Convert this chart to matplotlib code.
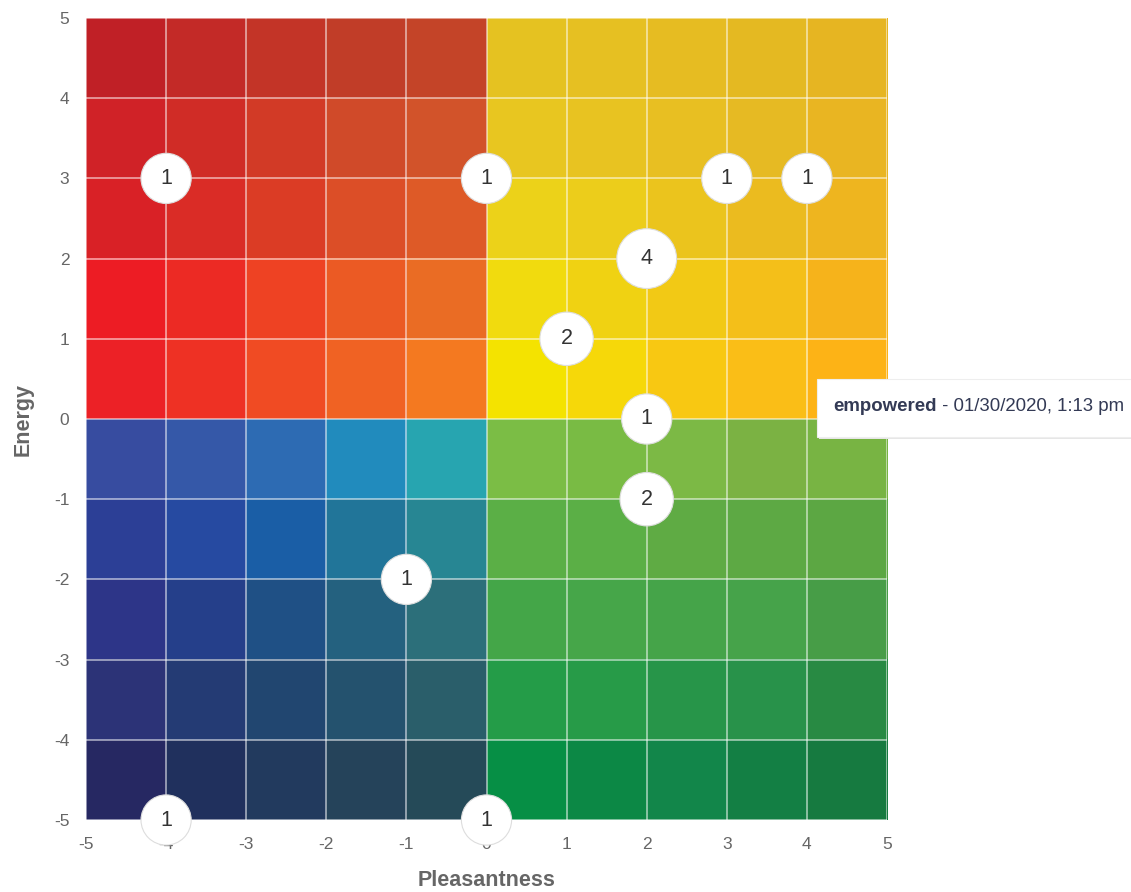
import numpy as np
import matplotlib
matplotlib.use('Agg')
import matplotlib.pyplot as plt
from matplotlib.colors import to_rgb
from matplotlib.patches import Rectangle

plt.rcParams['font.family'] = ['Liberation Sans', 'DejaVu Sans']
plt.rcParams['axes.unicode_minus'] = False

# Cell colours, rows from top (energy 4..5) down to bottom (energy -5..-4),
# columns from pleasantness -5 to 5
cell_rows = [
    ['#C02026', '#C32A27', '#C33427', '#C13D28', '#C44428', '#E5C221', '#E6C022', '#E6BC22', '#E4B922', '#E6B522'],
    ['#D02227', '#D02C26', '#D23A26', '#D04A29', '#D2532A', '#E8C620', '#E8C321', '#E8BF22', '#E6BA23', '#E9B522'],
    ['#D92126', '#DA2C26', '#DB3C25', '#DC4E27', '#DE5A27', '#ECD219', '#ECCD1B', '#EBC41D', '#EBBB1F', '#EEB51F'],
    ['#ED1C24', '#EC2A24', '#EE4223', '#EB5A24', '#EA6C24', '#F1DB0E', '#F0D212', '#F2C915', '#F4BF19', '#F6B31B'],
    ['#EC2126', '#EE3124', '#F04B23', '#F06223', '#F47920', '#F4E300', '#F6D809', '#F8C812', '#FABE17', '#FDB316'],
    ['#374CA0', '#3558A8', '#2D6BB3', '#218BBD', '#27A5B0', '#7BBD45', '#79BB44', '#7CB945', '#7BB243', '#78B443'],
    ['#2C3F96', '#264AA1', '#1A5EA6', '#217599', '#278693', '#5BAF46', '#5BAF46', '#5FAB44', '#5DA944', '#5CA743'],
    ['#2D3588', '#253F8A', '#1F5085', '#24617F', '#2C6F7A', '#44A648', '#46A649', '#45A449', '#46A34A', '#479D47'],
    ['#2C3377', '#243B74', '#214670', '#24526E', '#2A5E6A', '#249C48', '#279B48', '#279549', '#28924A', '#288A43'],
    ['#262862', '#20305D', '#223A5E', '#25435A', '#254A58', '#068F45', '#0C8845', '#12864A', '#137F44', '#167A40'],
]

# Check-in points
pleasantness = [-4, 0, 3, 4, 2, 1, 2, 2, -1, -4, 0]
energy = [3, 3, 3, 3, 2, 1, 0, -1, -2, -5, -5]
counts = [1, 1, 1, 1, 4, 2, 1, 2, 1, 1, 1]

tooltip_word = 'empowered'
tooltip_rest = ' - 01/30/2020, 1:13 pm'

W, H = 1131, 892
fig = plt.figure(figsize=(W / 100, H / 100), dpi=100)
ax = fig.add_axes([86 / W, 1 - 820 / H, (887 - 86) / W, (820 - 18) / H])

img = np.array([[to_rgb(c) for c in row] for row in cell_rows])
ax.imshow(img, extent=[-5, 5, -5, 5], origin='upper', aspect='auto',
          interpolation='nearest', zorder=0)

ax.set_xlim(-5, 5)
ax.set_ylim(-5, 5)
ax.set_xticks(range(-5, 6))
ax.set_yticks(range(-5, 6))
ax.set_axisbelow('line')
ax.grid(True, color='white', alpha=0.55, lw=1.3)
for s in ax.spines.values():
    s.set_visible(False)
ax.tick_params(length=0, labelsize=12.5, labelcolor='#666666')
ax.tick_params(axis='x', pad=12.5)
ax.tick_params(axis='y', pad=12)

ax.set_xlabel('Pleasantness', fontsize=15.5, fontweight='bold', color='#666666', labelpad=13)
ax.set_ylabel('Energy', fontsize=15.5, fontweight='bold', color='#666666', labelpad=14.5)

# bubble radius in px grows a little with count
radius_px = [23.5 + 1.6 * c for c in counts]
sizes = [(2 * r * 0.72) ** 2 for r in radius_px]
ax.scatter(pleasantness, energy, s=sizes, c='white', edgecolors='#dddddd',
           linewidths=0.8, zorder=5, clip_on=False)
for x, y, c in zip(pleasantness, energy, counts):
    ax.text(x, y, str(c), ha='center', va='center', fontsize=15.5,
            color='#333333', zorder=6, clip_on=False)

# tooltip box
fig.patches.append(Rectangle((819 / W, 1 - 439 / H), 320 / W, 60 / H,
                             transform=fig.transFigure, facecolor='#e6e6e6',
                             edgecolor='none', zorder=9))
fig.patches.append(Rectangle((817 / W, 1 - 437 / H), 320 / W, 58 / H,
                             transform=fig.transFigure, facecolor='white',
                             edgecolor='#eeeeee', lw=0.8, zorder=10))
t1 = fig.text(833 / W, 1 - 407 / H, tooltip_word, fontsize=13.4, fontweight='bold',
              color='#333a55', va='center', ha='left', zorder=11)
fig.canvas.draw()
bb = t1.get_window_extent(fig.canvas.get_renderer())
fig.text(bb.x1 / W, 1 - 407 / H, tooltip_rest, fontsize=13.4,
         color='#333a55', va='center', ha='left', zorder=11)

fig.savefig('out.png', dpi=100)
